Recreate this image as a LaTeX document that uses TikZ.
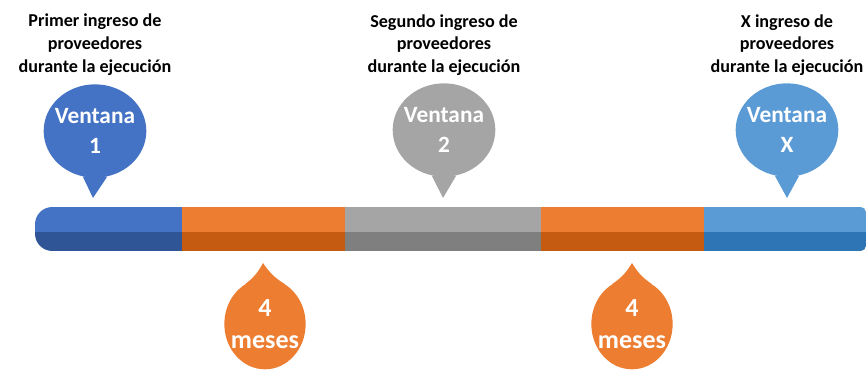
\documentclass[tikz,border=0pt]{standalone}
\usepackage{fontspec}
\setmainfont{Carlito}
\usetikzlibrary{shapes.geometric,positioning}

\definecolor{winblue}{HTML}{4472C4}
\definecolor{winbluedk}{HTML}{2F5597}
\definecolor{winorange}{HTML}{ED7D31}
\definecolor{winorangedk}{HTML}{C55A11}
\definecolor{wingray}{HTML}{A5A5A5}
\definecolor{wingraydk}{HTML}{7F7F7F}
\definecolor{winsky}{HTML}{5B9BD5}
\definecolor{winskydk}{HTML}{2E75B6}

\begin{document}
\begin{tikzpicture}[
    x=0.75pt, y=-0.75pt,
    % Bubble styles
    window/.style={ellipse, inner xsep=-4pt, inner ysep=0pt, minimum width=77pt, minimum height=70pt,
        text=white, align=center, font=\fontsize{17.5}{22.5}\selectfont\bfseries},
    months/.style={ellipse, fill=winorange, inner xsep=-10pt, inner ysep=0pt, minimum width=61pt, minimum height=68pt,
        text=white, align=center, font=\fontsize{19.5}{23.5}\selectfont\bfseries},
    toplabel/.style={align=center, font=\fontsize{13.6}{17}\selectfont\bfseries},
]

    \useasboundingbox (0,0) rectangle (868,377);

    % Timeline bar
    \begin{scope}
        \clip (450,207) [rounded corners=4pt] -- (866,207) -- (866,251)
              [rounded corners=13pt] -- (35,251) -- (35,207) -- cycle;
        \foreach \a/\b/\up/\down in {35/182/winblue/winbluedk,
                                     182/345/winorange/winorangedk,
                                     345/541/wingray/wingraydk,
                                     541/704/winorange/winorangedk,
                                     704/866/winsky/winskydk} {
            \fill[\up] (\a,207) rectangle (\b,232);
            \fill[\down] (\a,232) rectangle (\b,251);
        }
    \end{scope}

    % Window bubbles
    \node[window, fill=winblue] (win1) at (95,131) {Ventana\\1};
    \node[window, fill=wingray] (win2) at (444,130) {Ventana\\2};
    \node[window, fill=winsky]  (winx) at (787,130) {Ventana\\X};

    \coordinate (tip1) at (93,198);
    \coordinate (tip2) at (443,198);
    \coordinate (tipx) at (787,198);

    \fill[winblue] (win1.255) -- (tip1) -- (win1.285) -- cycle;
    \fill[wingray] (win2.255) -- (tip2) -- (win2.285) -- cycle;
    \fill[winsky]  (winx.255) -- (tipx) -- (winx.285) -- cycle;

    % Month bubbles
    \node[months] (mon1) at (265,324) {4\\meses};
    \node[months] (mon2) at (632,324) {4\\meses};

    \coordinate (mtip1) at (263,263);
    \coordinate (mtip2) at (632,263);

    \fill[winorange] (mon1.64) to[bend left=12] (mtip1) to[bend left=12] (mon1.116) -- cycle;
    \fill[winorange] (mon2.64) to[bend left=12] (mtip2) to[bend left=12] (mon2.116) -- cycle;

    % Labels
    \node[toplabel, above=3pt of win1] (lab1) {Primer ingreso de\\proveedores\\durante la ejecución};
    \node[toplabel, above=2pt of win2] (lab2) {Segundo ingreso de\\proveedores\\durante la ejecución};
    \node[toplabel, above=2pt of winx] (labx) {X ingreso de\\proveedores\\durante la ejecución};

\end{tikzpicture}
\end{document}
